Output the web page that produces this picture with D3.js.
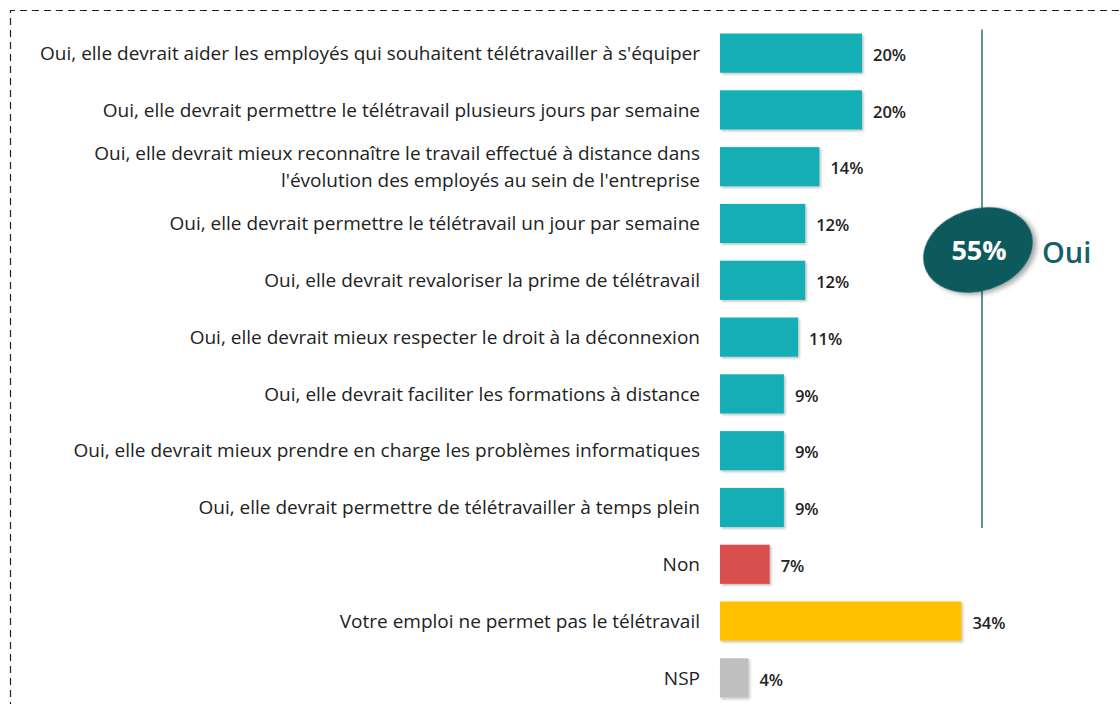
<!DOCTYPE html>
<html>
<head>
<meta charset="utf-8">
<script src="https://cdn.jsdelivr.net/npm/d3@7"></script>
<style>
  html, body { margin: 0; padding: 0; background: #fff; }
  svg { display: block; }
</style>
</head>
<body>
<div id="viz"></div>
<script>
// Answers, top to bottom. A label with "\n" is drawn on two lines.
const LABELS = [
  "Oui, elle devrait aider les employés qui souhaitent télétravailler à s'équiper",
  "Oui, elle devrait permettre le télétravail plusieurs jours par semaine",
  "Oui, elle devrait mieux reconnaître le travail effectué à distance dans\nl'évolution des employés au sein de l'entreprise",
  "Oui, elle devrait permettre le télétravail un jour par semaine",
  "Oui, elle devrait revaloriser la prime de télétravail",
  "Oui, elle devrait mieux respecter le droit à la déconnexion",
  "Oui, elle devrait faciliter les formations à distance",
  "Oui, elle devrait mieux prendre en charge les problèmes informatiques",
  "Oui, elle devrait permettre de télétravailler à temps plein",
  "Non",
  "Votre emploi ne permet pas le télétravail",
  "NSP"
];
const VALUES = [20, 20, 14, 12, 12, 11, 9, 9, 9, 7, 34, 4];
const GROUPS = ["oui", "oui", "oui", "oui", "oui", "oui", "oui", "oui", "oui", "non", "na", "nsp"];
const OUI_TOTAL = 55;

const groupColor = { oui: "#14aeb5", non: "#d94f50", na: "#ffc000", nsp: "#bfbfbf" };
const FONT = "'Open Sans', Lato, sans-serif";
const TEXT = "#222";
const DARK_TEAL = "#0e5a5c";

const W = 1120, H = 704;
const LABEL_RIGHT = 700, LABEL_LEFT = 40; // longest label spans this
const rows = LABELS.map((label, i) => ({ label, value: VALUES[i], group: GROUPS[i] }));

const svg = d3.select("#viz").append("svg")
  .attr("width", W)
  .attr("height", H);

const defs = svg.append("defs");
const shadow = defs.append("filter").attr("id", "shadow")
  .attr("x", "-20%").attr("y", "-20%").attr("width", "150%").attr("height", "150%");
shadow.append("feDropShadow")
  .attr("dx", 1.5).attr("dy", 1.5).attr("stdDeviation", 1.2)
  .attr("flood-color", "#000").attr("flood-opacity", 0.25);
const shadowBig = defs.append("filter").attr("id", "shadowBig")
  .attr("x", "-30%").attr("y", "-30%").attr("width", "170%").attr("height", "170%");
shadowBig.append("feDropShadow")
  .attr("dx", 3).attr("dy", 3).attr("stdDeviation", 2.5)
  .attr("flood-color", "#000").attr("flood-opacity", 0.35);

// dashed frame, cut off by the picture on the right and bottom
svg.append("path")
  .attr("d", `M10.5,${H + 5}V10.5H${W + 5}`)
  .attr("fill", "none")
  .attr("stroke", "#222")
  .attr("stroke-width", 1.2)
  .attr("stroke-dasharray", "7,5");

const x = d3.scaleLinear().domain([0, 20]).range([720, 862]);
const y = d3.scaleBand()
  .domain(d3.range(rows.length))
  .range([25, 706])
  .paddingInner(0.31)
  .paddingOuter(0.15);

svg.append("g")
  .selectAll("rect")
  .data(rows)
  .join("rect")
  .attr("x", x(0))
  .attr("y", (d, i) => y(i))
  .attr("width", d => x(d.value) - x(0))
  .attr("height", y.bandwidth())
  .attr("fill", d => groupColor[d.group])
  .attr("filter", "url(#shadow)");

// category labels, right-aligned against the bars
const labels = svg.append("g")
  .attr("font-family", FONT)
  .attr("font-size", 16)
  .attr("fill", TEXT)
  .selectAll("text")
  .data(rows)
  .join("text")
  .attr("x", LABEL_RIGHT)
  .attr("y", (d, i) => y(i) + y.bandwidth() / 2)
  .attr("text-anchor", "end");

labels.each(function (d) {
  const lines = d.label.split("\n");
  const t = d3.select(this);
  lines.forEach((line, k) => {
    t.append("tspan")
      .attr("x", LABEL_RIGHT)
      .attr("dy", k === 0 ? `${0.35 - (lines.length - 1) * 0.72}em` : "1.44em")
      .text(line);
  });
});

// fit the font size so the longest label spans the same width as the original
let widest = 0;
labels.selectAll("tspan").each(function () {
  widest = Math.max(widest, this.getComputedTextLength());
});
labels.attr("font-size", 16 * (LABEL_RIGHT - LABEL_LEFT) / widest);

svg.append("g")
  .selectAll("text")
  .data(rows)
  .join("text")
  .attr("x", d => x(d.value) + 11)
  .attr("y", (d, i) => y(i) + y.bandwidth() / 2 + 2)
  .attr("dy", "0.35em")
  .attr("font-family", FONT)
  .attr("font-size", 16.5)
  .attr("font-weight", 600)
  .attr("fill", TEXT)
  .text(d => `${d.value}%`);

// bracket line for all "Oui" answers
const ouiIdx = rows.map((d, i) => i).filter(i => rows[i].group === "oui");
const lineX = 982;
svg.append("line")
  .attr("x1", lineX).attr("x2", lineX)
  .attr("y1", y(ouiIdx[0]) - 4)
  .attr("y2", y(ouiIdx[ouiIdx.length - 1]) + y.bandwidth() + 1)
  .attr("stroke", "#2b6f73")
  .attr("stroke-width", 1.5);

const cx = 978, cy = 250;
svg.append("ellipse")
  .attr("transform", `translate(${cx},${cy}) rotate(-18)`)
  .attr("rx", 56)
  .attr("ry", 41)
  .attr("fill", DARK_TEAL)
  .attr("filter", "url(#shadowBig)");

svg.append("text")
  .attr("x", cx + 1)
  .attr("y", cy + 1)
  .attr("dy", "0.35em")
  .attr("text-anchor", "middle")
  .attr("font-family", FONT)
  .attr("font-size", 27)
  .attr("font-weight", "bold")
  .attr("fill", "#fff")
  .text(`${OUI_TOTAL}%`);

svg.append("text")
  .attr("x", 1042)
  .attr("y", cy + 3)
  .attr("dy", "0.35em")
  .attr("font-family", FONT)
  .attr("font-size", 29)
  .attr("font-weight", 600)
  .attr("fill", "#175e6b")
  .text("Oui");
</script>
</body>
</html>
